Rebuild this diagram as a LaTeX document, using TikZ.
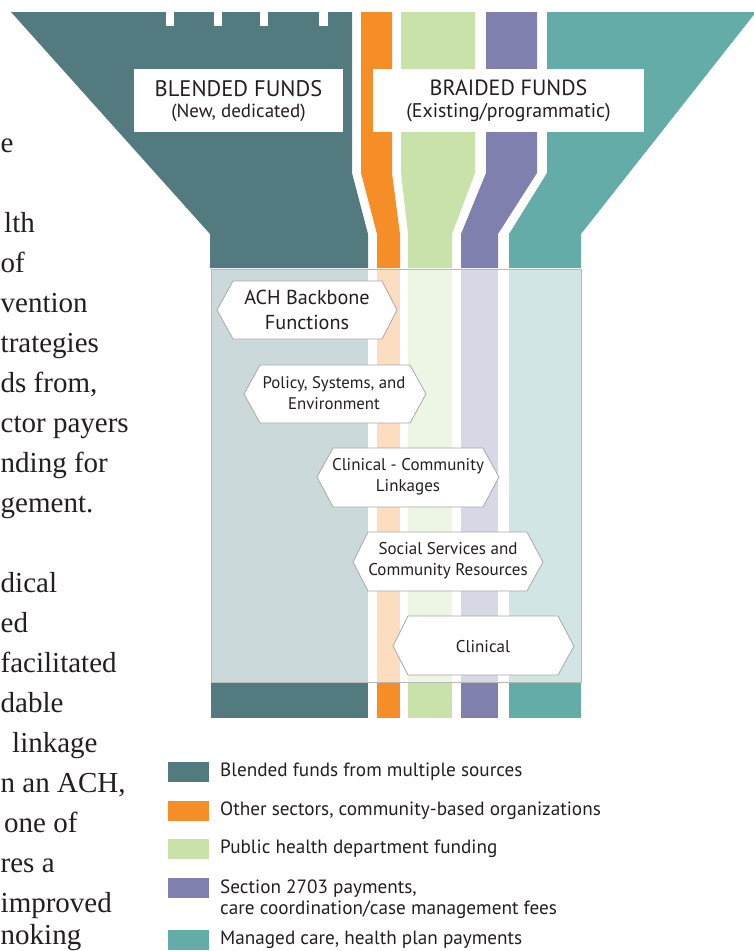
\documentclass[tikz,border=0pt]{standalone}
\usepackage{fontspec}
\setmainfont{PT Sans}
\newfontfamily\bodyserif{Liberation Serif}
\definecolor{cDark}{HTML}{537A7E}
\definecolor{cOrange}{HTML}{F58E27}
\definecolor{cGreen}{HTML}{C9E2AA}
\definecolor{cPurple}{HTML}{7F80AD}
\definecolor{cTeal}{HTML}{64ACA8}
\definecolor{pDark}{HTML}{CBD9DB}
\definecolor{pOrange}{HTML}{FCDDBF}
\definecolor{pGreen}{HTML}{EDF5E5}
\definecolor{pPurple}{HTML}{D6D8E6}
\definecolor{pTeal}{HTML}{D1E5E4}
\definecolor{ink}{HTML}{231F20}
\definecolor{hexline}{HTML}{A8A8A8}
\begin{document}
\begin{tikzpicture}[x=1pt,y=-1pt,
  hexbox/.style={fill=white,draw=hexline,line width=0.8pt,line join=miter},
  hextext/.style={align=center,inner sep=0pt,text=ink,font=\fontsize{17}{21}\selectfont},
  headtext/.style={align=center,inner sep=0pt,text=ink},
  legtext/.style={anchor=west,inner sep=0pt,text=ink,align=left,font=\fontsize{19.2}{20.5}\selectfont},
  bodytext/.style={anchor=base west,inner sep=0pt,text=ink,font=\bodyserif\fontsize{29}{29}\selectfont}]
\useasboundingbox (0,0) rectangle (754,951);
\clip (0,0) rectangle (754,951);
% funnel top
\fill[cDark] (11,12) -- (352,12) -- (352,173) -- (368,234) -- (368,268) -- (210,268) -- (210,234) -- cycle;
\fill[cOrange] (361,12) -- (392,12) -- (392,173) -- (400,234) -- (400,268) -- (377,268) -- (377,234) -- (361,173) -- cycle;
\fill[cGreen] (401,12) -- (475,12) -- (475,173) -- (452,234) -- (452,268) -- (408,268) -- (408,234) -- (401,173) -- cycle;
\fill[cPurple] (486,12) -- (537,12) -- (537,173) -- (498,234) -- (498,268) -- (461,268) -- (461,234) -- (486,173) -- cycle;
\fill[cTeal] (547,12) -- (756,12) -- (581,234) -- (581,268) -- (509,268) -- (509,234) -- (547,173) -- cycle;
% notches
\foreach \a/\b in {166/174,214/222,260/268,319/328}
  \fill[white] (\a,11) rectangle (\b,26);
% pale middle section
\fill[pDark] (211,269) rectangle (368,682);
\fill[pOrange] (377,269) rectangle (400,682);
\fill[pGreen] (408,269) rectangle (452,682);
\fill[pPurple] (461,269) rectangle (498,682);
\fill[pTeal] (509,269) rectangle (581,682);
\draw[hexline!80,line width=0.9pt] (211,269) rectangle (581,682);
% bottom bars
\fill[cDark] (211,683) rectangle (368,718);
\fill[cOrange] (377,683) rectangle (400,718);
\fill[cGreen] (408,683) rectangle (452,718);
\fill[cPurple] (461,683) rectangle (498,718);
\fill[cTeal] (509,683) rectangle (581,718);
% header labels
\fill[white] (134,69) rectangle (343,132);
\fill[white] (373,69) rectangle (644,132);
\node[headtext,font=\fontsize{22.5}{22.5}\selectfont] (blend) at (238.5,89) {BLENDED FUNDS};
\node[headtext,font=\fontsize{19}{19}\selectfont] (blendsub) at (238.5,113) {(New, dedicated)};
\node[headtext,font=\fontsize{22}{22}\selectfont] (braid) at (508.5,88) {BRAIDED FUNDS};
\node[headtext,font=\fontsize{19.8}{19.8}\selectfont] (braidsub) at (508.5,113) {(Existing/programmatic)};
% hexagons
\draw[hexbox] (217,310) -- (233,281) -- (382,281) -- (397,310) -- (382,339) -- (233,339) -- cycle;
\node[hextext,font=\fontsize{20.2}{25}\selectfont] (h1) at (307,310) {ACH Backbone\\Functions};
\draw[hexbox] (244,394) -- (260,365) -- (410,365) -- (426,394) -- (410,423) -- (260,423) -- cycle;
\node[hextext,font=\fontsize{16.8}{21}\selectfont] (h2) at (334,393.5) {Policy, Systems, and\\Environment};
\draw[hexbox] (317,477) -- (333,448) -- (483,448) -- (499,477) -- (483,507) -- (333,507) -- cycle;
\node[hextext] (h3) at (408,476.5) {Clinical - Community\\Linkages};
\draw[hexbox] (353,562) -- (368,532) -- (527,532) -- (543,562) -- (527,591) -- (368,591) -- cycle;
\node[hextext] (h4) at (448,560.5) {Social Services and\\Community Resources};
\draw[hexbox] (393,646) -- (408,616) -- (558,616) -- (574,646) -- (558,675) -- (408,675) -- cycle;
\node[hextext] (h5) at (483,646.5) {Clinical};
% legend
\fill[cDark] (168,762) rectangle (209,782);
\fill[cOrange] (168,801) rectangle (209,821);
\fill[cGreen] (168,839) rectangle (209,859);
\fill[cPurple] (168,878) rectangle (209,898);
\fill[cTeal] (168,930) rectangle (209,950);
\node[legtext] (l1) at (220,772) {Blended funds from multiple sources};
\node[legtext] (l2) at (220,811) {Other sectors, community-based organizations};
\node[legtext] (l3) at (220,849) {Public health department funding};
\node[legtext] (l4) at (220,899) {Section 2703 payments,\\care coordination/case management fees};
\node[legtext] (l5) at (220,940) {Managed care, health plan payments};
% cropped body text at the left
\node[bodytext] (b1) at (0.5,152) {e};
\node[bodytext] (b2) at (4,232) {lth};
\node[bodytext] (b3) at (0.5,272) {of};
\node[bodytext] (b4) at (0.5,312) {vention};
\node[bodytext] (b5) at (0.5,352) {trategies};
\node[bodytext] (b6) at (0.5,392) {ds from,};
\node[bodytext] (b7) at (0.5,432) {ctor payers};
\node[bodytext] (b8) at (0.5,472) {nding for};
\node[bodytext] (b9) at (0.5,512) {gement.};
\node[bodytext] (b10) at (0.5,592) {dical};
\node[bodytext] (b11) at (0.5,632) {ed};
\node[bodytext] (b12) at (0.5,672) {facilitated};
\node[bodytext] (b13) at (0.5,712) {dable};
\node[bodytext] (b14) at (12,752) {linkage};
\node[bodytext] (b15) at (0.5,792) {n an ACH,};
\node[bodytext] (b16) at (4,832) {one of};
\node[bodytext] (b17) at (0.5,872) {res a};
\node[bodytext] (b18) at (0.5,912) {improved};
\node[bodytext] (b19) at (0.5,944) {noking};
\end{tikzpicture}
\end{document}
